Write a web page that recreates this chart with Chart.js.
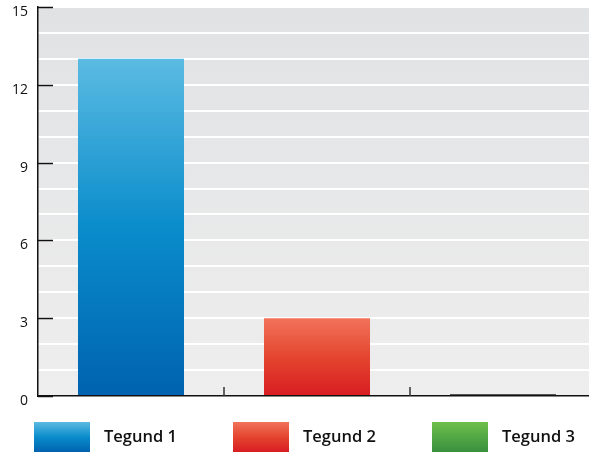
<!DOCTYPE html>
<html>
<head>
<meta charset="utf-8">
<script src="https://cdn.jsdelivr.net/npm/chart.js@4/dist/chart.umd.min.js"></script>
<style>
html,body{margin:0;padding:0;background:#fff;overflow:hidden;}
#wrap{width:589px;height:452px;position:relative;overflow:hidden;}
canvas{display:block;}
</style>
</head>
<body>
<div id="wrap"><canvas id="c" width="596" height="452"></canvas></div>
<script>
const categories = ["Tegund 1", "Tegund 2", "Tegund 3"];
const values = [13, 3, 0];
const yTickLabels = [0, 3, 6, 9, 12, 15];
const gradientStops = [
  ["#5bbbe2", "#0a8ccb", "#0063b0"],
  ["#f2735a", "#e4452f", "#d81d22"],
  ["#6fc04a", "#52a844", "#3a8f3e"]
];

function vGrad(ctx, top, bottom, stops) {
  const g = ctx.createLinearGradient(0, top, 0, bottom);
  g.addColorStop(0, stops[0]);
  g.addColorStop(0.5, stops[1]);
  g.addColorStop(1, stops[2]);
  return g;
}

const decor = {
  id: 'decor',
  beforeDraw(chart) {
    const {ctx, chartArea: a} = chart;
    const g = ctx.createLinearGradient(0, a.top, 0, a.bottom);
    g.addColorStop(0, '#e1e2e4');
    g.addColorStop(1, '#eeeeee');
    ctx.save();
    ctx.fillStyle = g;
    ctx.fillRect(a.left, a.top, a.right - a.left, a.bottom - a.top);
    ctx.restore();
  },
  afterDraw(chart) {
    const {ctx, chartArea: a, scales} = chart;
    const y = scales.y, x = scales.x;
    ctx.save();
    ctx.strokeStyle = '#111';
    ctx.lineWidth = 1.5;
    yTickLabels.forEach(v => {
      const py = Math.round(y.getPixelForValue(v)) + 0.5;
      ctx.beginPath();
      ctx.moveTo(a.left, py);
      ctx.lineTo(a.left + 15, py);
      ctx.stroke();
    });
    ctx.strokeStyle = '#333';
    ctx.lineWidth = 1.5;
    for (let i = 0; i < categories.length - 1; i++) {
      const px = Math.round(x.getPixelForValue(i + 0.5));
      ctx.beginPath();
      ctx.moveTo(px, a.bottom);
      ctx.lineTo(px, a.bottom - 9);
      ctx.stroke();
    }
    // legend
    ctx.font = '600 16.5px "Open Sans"';
    ctx.textBaseline = 'middle';
    categories.forEach((c, i) => {
      const bx = 34 + i * 199, by = 422, bw = 56, bh = 30;
      ctx.fillStyle = vGrad(ctx, by, by + bh, gradientStops[i]);
      ctx.fillRect(bx, by, bw, bh);
      ctx.fillStyle = '#111';
      ctx.fillText(c, bx + 70, by + 15);
    });
    ctx.restore();
  }
};

new Chart(document.getElementById('c'), {
  type: 'bar',
  data: {
    labels: categories,
    datasets: [{
      data: values,
      minBarLength: 2,
      backgroundColor(context) {
        const chart = context.chart;
        const i = context.dataIndex;
        if (!chart.chartArea || !chart.scales.y) return gradientStops[i][1];
        const v = values[i];
        if (v === 0) return '#555';
        const y = chart.scales.y;
        return vGrad(chart.ctx, y.getPixelForValue(v), y.getPixelForValue(0), gradientStops[i]);
      },
      borderWidth: 0,
      barPercentage: 0.57,
      categoryPercentage: 1
    }]
  },
  plugins: [decor],
  options: {
    responsive: false,
    animation: false,
    layout: {padding: {left: 0, top: 7, right: 0, bottom: 56}},
    plugins: {legend: {display: false}, tooltip: {enabled: false}},
    scales: {
      x: {
        grid: {display: false},
        ticks: {display: false},
        border: {display: true, color: '#111', width: 1.5},
        afterFit(s) { s.height = 0; s.paddingLeft = 0; s.paddingRight = 0; }
      },
      y: {
        min: 0, max: 15,
        ticks: {
          stepSize: 1,
          autoSkip: false,
          padding: 10,
          labelOffset: 5,
          color: '#111',
          font: {family: 'Open Sans', size: 14},
          callback(v) { return yTickLabels.includes(v) ? String(v) : ''; }
        },
        grid: {color: '#ffffff', lineWidth: 2, drawTicks: false},
        border: {display: true, color: '#111', width: 1.5},
        afterFit(s) { s.width = 38; s.paddingTop = 0; s.paddingBottom = 0; }
      }
    }
  }
});
</script>
</body>
</html>
